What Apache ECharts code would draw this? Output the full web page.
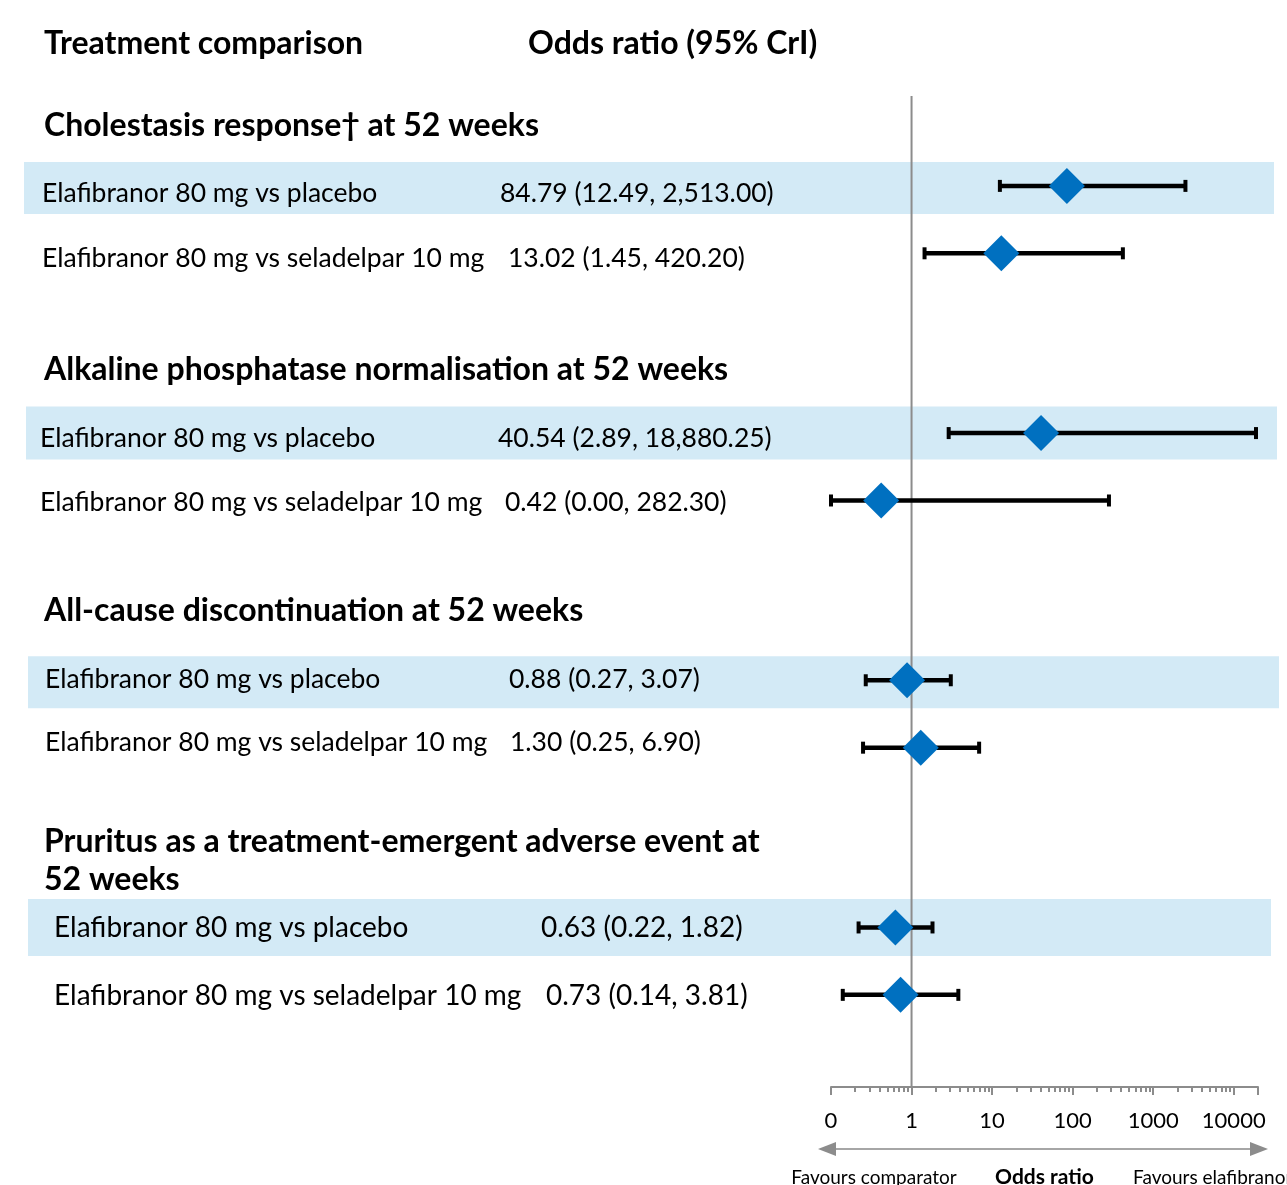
<!DOCTYPE html>
<html>
<head>
<meta charset="utf-8">
<script src="https://cdn.jsdelivr.net/npm/echarts@6/dist/echarts.min.js"></script>
<style>
  html, body { margin: 0; padding: 0; background: #fff; }
  #chart { width: 1287px; height: 1185px; }
</style>
</head>
<body>
<div id="chart"></div>
<script>
// data
const sections = [
  'Cholestasis response\u2020 at 52 weeks',
  'Alkaline phosphatase normalisation at 52 weeks',
  'All-cause discontinuation at 52 weeks',
  'Pruritus as a treatment-emergent adverse event at\n52 weeks'
];
const comparisons = ['Elafibranor 80 mg vs placebo', 'Elafibranor 80 mg vs seladelpar 10 mg'];
const rowSection = [0, 0, 1, 1, 2, 2, 3, 3];
const rowComparison = [0, 1, 0, 1, 0, 1, 0, 1];
const estimate = [84.79, 13.02, 40.54, 0.42, 0.88, 1.30, 0.63, 0.73];
const lower = [12.49, 1.45, 2.89, 0.00, 0.27, 0.25, 0.22, 0.14];
const upper = [2513.00, 420.20, 18880.25, 282.30, 3.07, 6.90, 1.82, 3.81];
const majorTicks = [0.1, 1, 10, 100, 1000, 10000];
const tickLabels = ['0', '1', '10', '100', '1000', '10000'];

// layout (pixels / row slots), not data
const AXIS_MIN = 0.1, AXIS_MAX = 20000, SLOT_MAX = 44.1;
const GRID_TOP = 96, GRID_BOTTOM = 98;
const labelX = [42, 42, 40, 40, 45, 45, 54, 54];
const valueX = [500, 508, 498, 505, 509, 510, 541, 546];
const textDy = [8, 5, 5, 2, -1, -5, 1, 1];
const sectionFontSize = [26.5, 26.5, 26.5, 28];
const headerSlot = [1.33, 12.2, 22.92, 34.03];
const bandX = [[24, 1274], [26, 1277], [28, 1279], [28, 1271]];
const bandY = [[2, 52], [0, 53], [2, 52], [0, 57]]; // centre offset, height

const fmt = v => v.toLocaleString('en-US', { minimumFractionDigits: 2, maximumFractionDigits: 2 });
const rowSlot = i => rowSection[i] * 11 + 4 + 3 * rowComparison[i];

const minorTicks = [];
for (let k = -1; k <= 3; k++) {
  for (let m = 2; m <= 9; m++) minorTicks.push(Number((m * Math.pow(10, k)).toPrecision(6)));
}

const axisGray = '#8c8c8c';
const headFont = 'bold 32px Lato';
const chart = echarts.init(document.getElementById('chart'));

const option = {
  animation: false,
  textStyle: { fontFamily: 'Lato' },
  grid: { left: 831, right: 29, top: GRID_TOP, bottom: GRID_BOTTOM, outerBoundsMode: 'none', containLabel: false },
  xAxis: [
    {
      type: 'log', logBase: 10, min: AXIS_MIN, max: AXIS_MAX, position: 'bottom',
      axisLine: { onZero: false, lineStyle: { color: axisGray, width: 2 } },
      axisTick: { customValues: majorTicks.concat([AXIS_MAX]), length: 8, lineStyle: { color: axisGray, width: 2 } },
      axisLabel: {
        customValues: majorTicks, margin: 23, fontSize: 22, color: '#000', fontFamily: 'Lato',
        formatter: v => tickLabels[Math.round(Math.log10(v)) + 1]
      },
      splitLine: { show: false },
      name: 'Odds ratio', nameLocation: 'middle', nameGap: 80,
      nameTextStyle: { fontSize: 21, fontWeight: 'bold', color: '#000', fontFamily: 'Lato' }
    },
    {
      // minor ticks, drawn on the same line as the main axis
      type: 'log', logBase: 10, min: AXIS_MIN, max: AXIS_MAX, position: 'top',
      offset: -(1185 - GRID_TOP - GRID_BOTTOM),
      axisLine: { show: false, onZero: false },
      axisTick: { inside: true, customValues: minorTicks, length: 5, lineStyle: { color: axisGray, width: 2 } },
      axisLabel: { show: false },
      splitLine: { show: false }
    }
  ],
  yAxis: { type: 'value', min: 0, max: SLOT_MAX, inverse: true, show: false },
  graphic: [
    { type: 'text', x: 44, y: 44, style: { text: 'Treatment comparison', font: headFont, fill: '#000', textVerticalAlign: 'middle' } },
    { type: 'text', x: 528, y: 44, style: { text: 'Odds ratio (95% CrI)', font: headFont, fill: '#000', textVerticalAlign: 'middle' } },
    { type: 'line', shape: { x1: 832, y1: 1149, x2: 1255, y2: 1149 }, style: { stroke: '#a6a6a6', lineWidth: 2 } },
    { type: 'polygon', shape: { points: [[818, 1149], [836, 1142], [836, 1156]] }, style: { fill: '#8c8c8c' } },
    { type: 'polygon', shape: { points: [[1268, 1149], [1250, 1142], [1250, 1156]] }, style: { fill: '#8c8c8c' } },
    { type: 'text', x: 874, y: 1178, style: { text: 'Favours comparator', font: '19px Lato', fill: '#000', textAlign: 'center', textVerticalAlign: 'middle' } },
    { type: 'text', x: 1133, y: 1178, style: { text: 'Favours elafibranor', font: '19px Lato', fill: '#000', textAlign: 'left', textVerticalAlign: 'middle' } }
  ],
  series: [
    {
      name: 'bands', type: 'custom', clip: false, silent: true, z: 1,
      data: sections.map((s, k) => [1, k * 11 + 4, k]),
      renderItem: (params, api) => {
        const k = api.value(2);
        const cy = api.coord([1, api.value(1)])[1] + bandY[k][0];
        const h = bandY[k][1];
        return {
          type: 'rect',
          shape: { x: bandX[k][0], y: cy - h / 2, width: bandX[k][1] - bandX[k][0], height: h },
          style: { fill: '#d3eaf6' }
        };
      }
    },
    {
      name: 'ref', type: 'line', z: 2, silent: true, symbol: 'none',
      data: [[1, 0], [1, SLOT_MAX]],
      lineStyle: { color: axisGray, width: 2 }
    },
    {
      name: 'headers', type: 'custom', clip: false, silent: true, z: 3,
      data: sections.map((s, k) => [1, headerSlot[k], k]),
      renderItem: (params, api) => {
        const k = api.value(2);
        const y = api.coord([1, api.value(1)])[1];
        return {
          type: 'text', x: 44, y: y,
          style: { text: sections[k], font: headFont, fill: '#000', textVerticalAlign: 'middle', lineHeight: 38 }
        };
      }
    },
    {
      name: 'forest', type: 'custom', clip: false, z: 4,
      encode: { x: [0, 1, 2], y: 3 },
      data: estimate.map((e, i) => [e, lower[i], upper[i], rowSlot(i), i]),
      renderItem: (params, api) => {
        const i = api.value(4);
        const slot = api.value(3);
        const y = api.coord([1, slot])[1];
        const xe = api.coord([api.value(0), slot])[0];
        const xl = api.coord([Math.max(api.value(1), AXIS_MIN), slot])[0];
        const xh = api.coord([api.value(2), slot])[0];
        const d = 18;
        const font = sectionFontSize[rowSection[i]] + 'px Lato';
        return {
          type: 'group',
          children: [
            { type: 'line', shape: { x1: xl, y1: y, x2: xh, y2: y }, style: { stroke: '#000', lineWidth: 4.5 } },
            { type: 'rect', shape: { x: xl - 2, y: y - 6, width: 4, height: 12 }, style: { fill: '#000' } },
            { type: 'rect', shape: { x: xh - 2, y: y - 6, width: 4, height: 12 }, style: { fill: '#000' } },
            { type: 'polygon', shape: { points: [[xe, y - d], [xe + d, y], [xe, y + d], [xe - d, y]] }, style: { fill: '#0070c0' } },
            { type: 'text', x: labelX[i], y: y + textDy[i],
              style: { text: comparisons[rowComparison[i]], font: font, fill: '#000', textVerticalAlign: 'middle' } },
            { type: 'text', x: valueX[i], y: y + textDy[i],
              style: { text: fmt(estimate[i]) + ' (' + fmt(lower[i]) + ', ' + fmt(upper[i]) + ')', font: font, fill: '#000', textVerticalAlign: 'middle' } }
          ]
        };
      }
    }
  ]
};

chart.setOption(option);
</script>
</body>
</html>
